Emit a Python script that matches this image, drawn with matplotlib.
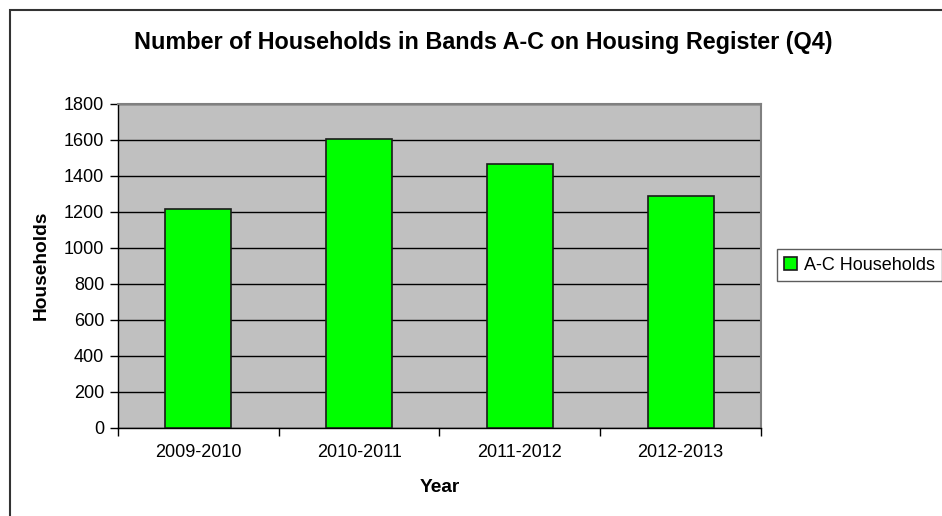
import matplotlib.pyplot as plt
import numpy as np
from matplotlib.patches import Rectangle

plt.rcParams['font.family'] = ['Liberation Sans', 'DejaVu Sans']

years = ['2009-2010', '2010-2011', '2011-2012', '2012-2013']
households = [1215, 1606, 1469, 1291]

fig = plt.figure(figsize=(9.42, 5.16), dpi=100)
ax = fig.add_axes([118 / 942, 1 - 427.7 / 516, (761 - 118) / 942, (427.7 - 104) / 516])

# outer chart border (right and bottom are cut off in the reference)
fig.patches.append(Rectangle((10 / 942, -0.1), 1.2, 1 - 10 / 516 + 0.1,
                             transform=fig.transFigure, fill=False,
                             edgecolor='#333333', linewidth=1.5))

x = np.arange(len(years))
ax.set_facecolor('#c0c0c0')
ax.bar(x, households, width=0.41, color='#00ff00', edgecolor='#1a1a1a',
       linewidth=1.2, label='A-C Households', zorder=3)

ax.set_xlim(-0.5, 3.5)
ax.set_ylim(0, 1800)
ax.set_yticks(range(0, 1801, 200))
ax.yaxis.grid(True, color='black', linewidth=1)
ax.set_axisbelow(True)

ax.set_xticks(x)
ax.set_xticklabels(years, fontsize=13)
ax.set_xticks(np.arange(-0.5, 4, 1), minor=True)
ax.tick_params(axis='x', which='major', length=0, pad=12)
ax.tick_params(axis='x', which='minor', length=6, width=1, color='black')
ax.tick_params(axis='y', labelsize=13, length=6, width=1, pad=4)

for s in ['top', 'right']:
    ax.spines[s].set_color('#808080')
    ax.spines[s].set_linewidth(1.5)
for s in ['left', 'bottom']:
    ax.spines[s].set_color('black')
    ax.spines[s].set_linewidth(1)

ax.set_xlabel('Year', fontsize=13.8, fontweight='bold')
ax.xaxis.set_label_coords(440 / 942, 1 - 488 / 516, transform=fig.transFigure)
ax.xaxis.label.set_va('center')
ax.set_ylabel('Households', fontsize=13.8, fontweight='bold')
ax.yaxis.set_label_coords(41 / 942, 1 - 265 / 516, transform=fig.transFigure)
ax.yaxis.label.set_va('center')
fig.text(483.5 / 942, 1 - 43 / 516, 'Number of Households in Bands A-C on Housing Register (Q4)',
         ha='center', va='center', fontsize=16.8, fontweight='bold')

leg = ax.legend(loc='center left', bbox_to_anchor=(777 / 942, 1 - 265 / 516),
                bbox_transform=fig.transFigure, fontsize=13, frameon=True,
                fancybox=False, edgecolor='#333333', handlelength=0.7,
                handleheight=0.7, handletextpad=0.4, borderpad=0.4,
                borderaxespad=0)
leg.get_frame().set_linewidth(1)

fig.savefig('out.png', dpi=100)
